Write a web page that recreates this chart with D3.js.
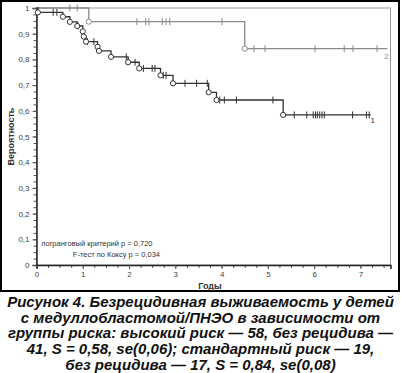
<!DOCTYPE html>
<html>
<head>
<meta charset="utf-8">
<script src="https://cdn.jsdelivr.net/npm/d3@7"></script>
<style>
  body { margin: 0; background: #fff; }
  svg { display: block; }
</style>
</head>
<body>
<div id="chart"></div>
<script>
// Группа 1 — высокий риск: рецидивы (время, выживаемость после шага)
const g1EventTimes = [0.03, 0.57, 0.72, 0.88, 1.0, 1.02, 1.07, 1.32, 1.35, 1.61, 1.98, 2.22, 2.68, 2.95, 3.72, 3.89, 5.33];
const g1EventSurv  = [0.983, 0.966, 0.946, 0.93, 0.909, 0.889, 0.869, 0.849, 0.833, 0.81, 0.789, 0.765, 0.738, 0.707, 0.672, 0.642, 0.584];
const g1Censored   = [0.36, 0.44, 0.9, 1.10, 1.24, 1.94, 2.13, 2.31, 2.50, 2.56, 2.74, 2.80, 3.21, 3.46, 3.69, 3.96, 4.06, 4.32, 5.11,
                      5.57, 5.84, 5.98, 6.03, 6.07, 6.12, 6.17, 6.22, 6.83, 7.13, 7.19];
const g1End = 7.22;

// Группа 2 — стандартный риск
const g2EventTimes = [1.13, 4.50];
const g2EventSurv  = [0.947, 0.842];
const g2Censored   = [0.72, 0.88, 2.17, 2.36, 2.43, 2.72, 2.80, 2.88, 4.01, 4.70, 4.94, 6.02, 6.65, 6.84, 7.36];
const g2End = 7.58;

const xTicks = [0, 1, 2, 3, 4, 5, 6, 7];
const yTicks = [0, 0.1, 0.2, 0.3, 0.4, 0.5, 0.6, 0.7, 0.8, 0.9, 1];

const statLines = ["логранговый критерий p = 0,720", "F-тест по Коксу p = 0,034"];
const caption = [
  "Рисунок 4. Безрецидивная выживаемость у детей",
  "с медуллобластомой/ПНЭО в зависимости от",
  "группы риска: высокий риск — 58, без рецидива —",
  "41, S = 0,58, se(0,06); стандартный риск — 19,",
  "без рецидива — 17, S = 0,84,  se(0,08)"
];

const width = 401, height = 373;
const margin = { top: 8, right: 10.5, bottom: 108, left: 36.5 };

const svg = d3.select("#chart").append("svg")
  .attr("width", width)
  .attr("height", height)
  .style("font-family", "'Liberation Sans', Arial, sans-serif");

// внешняя рамка
svg.append("rect")
  .attr("x", 1).attr("y", 1)
  .attr("width", width - 3).attr("height", 290)
  .attr("fill", "none").attr("stroke", "#000").attr("stroke-width", 2);

const x = d3.scaleLinear().domain([0, 7.65]).range([margin.left, width - margin.right]);
const y = d3.scaleLinear().domain([0, 1]).range([height - margin.bottom, margin.top]);

// рамка области графика (серая)
svg.append("rect")
  .attr("x", x(0)).attr("y", y(1))
  .attr("width", x(7.65) - x(0)).attr("height", y(0) - y(1))
  .attr("fill", "none").attr("stroke", "#999").attr("stroke-width", 1);

// Ось X
const xAxis = svg.append("g").attr("transform", `translate(0,${y(0)})`);
xAxis.call(d3.axisBottom(x).tickValues(d3.range(0, 7.6, 0.25)).tickSize(3).tickFormat(""));
xAxis.call(g => g.select(".domain").remove());
xAxis.append("g").call(d3.axisBottom(x).tickValues(xTicks).tickSize(4).tickPadding(2).tickFormat(d3.format("d")))
  .call(g => g.select(".domain").attr("stroke", "#222").attr("stroke-width", 1.5))
  .call(g => g.selectAll("text").attr("fill", "#444").style("font-size", "8px"));
xAxis.selectAll("line").attr("stroke", "#555");

// Ось Y
const yAxis = svg.append("g").attr("transform", `translate(${x(0)},0)`);
yAxis.call(d3.axisLeft(y).tickValues(d3.range(0, 1.001, 0.025)).tickSize(3).tickFormat(""));
yAxis.call(g => g.select(".domain").remove());
yAxis.append("g").call(d3.axisLeft(y).tickValues(yTicks).tickSize(4).tickPadding(3)
    .tickFormat(d => d === 0 ? "0" : d === 1 ? "1" : d3.format(".1f")(d).replace(".", ",")))
  .call(g => g.select(".domain").attr("stroke", "#222").attr("stroke-width", 1.5))
  .call(g => g.selectAll("text").attr("fill", "#444").style("font-size", "8px"));
yAxis.selectAll("line").attr("stroke", "#555");

// Подписи осей
svg.append("text")
  .attr("x", 210).attr("y", 288.5)
  .attr("text-anchor", "middle")
  .style("font-size", "9px").style("font-weight", "bold").attr("fill", "#333")
  .text("Годы");

svg.append("text")
  .attr("transform", `translate(14,${(y(0) + y(1)) / 2}) rotate(-90)`)
  .attr("text-anchor", "middle")
  .style("font-size", "9px").style("font-weight", "bold").attr("fill", "#333")
  .text("Вероятность");

// ступенчатая кривая Каплана-Мейера
function drawCurve(times, surv, censored, end, color, label, labelPos) {
  const pts = [[0, 1]];
  let s = 1;
  times.forEach((t, i) => {
    pts.push([t, s]);
    s = surv[i];
    pts.push([t, s]);
  });
  pts.push([end, s]);

  svg.append("path")
    .datum(pts)
    .attr("fill", "none")
    .attr("stroke", color)
    .attr("stroke-width", 1.3)
    .attr("d", d3.line().x(d => x(d[0])).y(d => y(d[1])));

  const survAt = t => {
    let v = 1;
    times.forEach((et, i) => { if (et <= t) v = surv[i]; });
    return v;
  };

  svg.selectAll(null)
    .data(censored)
    .enter().append("line")
    .attr("x1", d => x(d)).attr("x2", d => x(d))
    .attr("y1", d => y(survAt(d)) - 3.5).attr("y2", d => y(survAt(d)) + 3.5)
    .attr("stroke", color).attr("stroke-width", 1);

  svg.selectAll(null)
    .data(times.map((t, i) => [t, surv[i]]))
    .enter().append("circle")
    .attr("cx", d => x(d[0])).attr("cy", d => y(d[1]))
    .attr("r", 2.6)
    .attr("fill", "#fff").attr("stroke", color).attr("stroke-width", 1);

  svg.append("text")
    .attr("x", x(end) + labelPos[0]).attr("y", y(s) + labelPos[1])
    .style("font-size", "8px").attr("fill", color)
    .text(label);
}

drawCurve(g2EventTimes, g2EventSurv, g2Censored, g2End, "#8a8a8a", "2", [-3, 10]);
drawCurve(g1EventTimes, g1EventSurv, g1Censored, g1End, "#333", "1", [0, 8]);

// Статистика
svg.append("text")
  .attr("x", 41).attr("y", 246)
  .style("font-size", "7.5px").attr("fill", "#333")
  .text(statLines[0]);
svg.append("text")
  .attr("x", 160).attr("y", 257)
  .attr("text-anchor", "end")
  .style("font-size", "7.5px").attr("fill", "#333")
  .text(statLines[1]);

// Подпись к рисунку
svg.append("g").selectAll("text")
  .data(caption)
  .enter().append("text")
  .attr("x", width / 2)
  .attr("y", (d, i) => 307 + i * 15.7)
  .attr("text-anchor", "middle")
  .style("font-size", "15px")
  .style("font-weight", "bold")
  .style("font-style", "italic")
  .attr("fill", "#111")
  .text(d => d);
</script>
</body>
</html>
